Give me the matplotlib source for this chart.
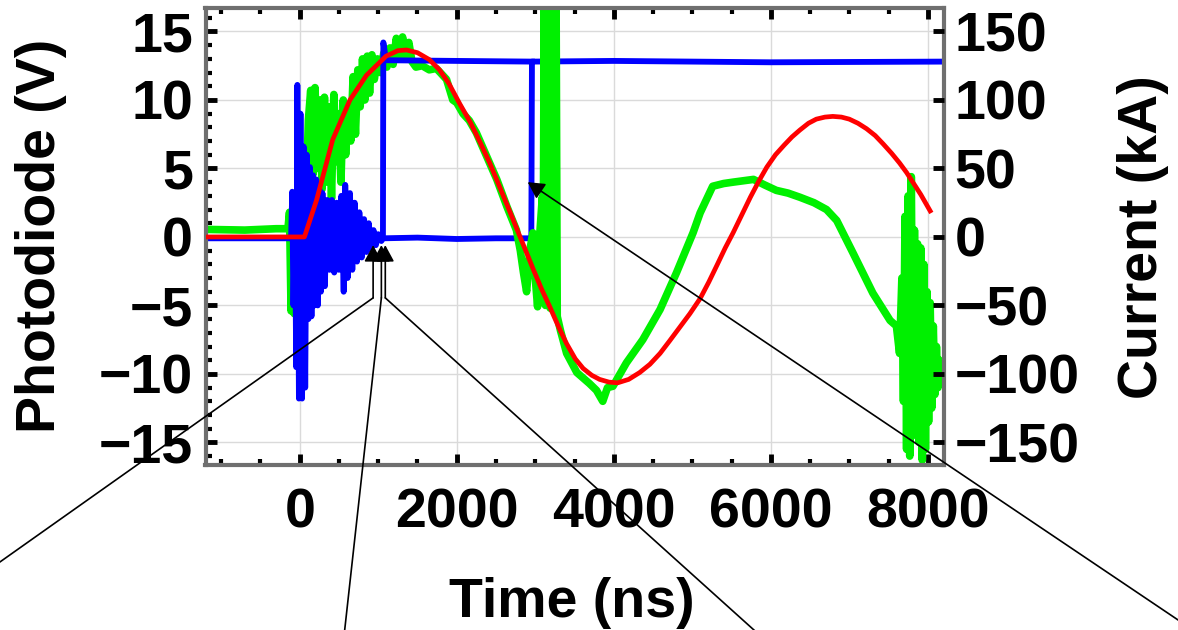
import numpy as np
import matplotlib
matplotlib.use('Agg')
import matplotlib.pyplot as plt
from matplotlib.ticker import MultipleLocator

# photodiode (green), ns / V
green_pts = [(-1200, 0.55), (-700, 0.5), (-300, 0.6), (-150, 0.6), (-130, 1.8), (-110, -5.4), (-90, 0.5),
             (-70, -5.6), (-40, 2.5), (-10, -4.0), (30, 5.0), (70, 0.5), (110, 8.5), (140, 10.7), (165, 4.5),
             (195, 10.9), (225, 5.0), (255, 10.0), (285, 3.5), (315, 10.2), (345, 4.0), (375, 9.5), (405, 2.8),
             (435, 10.4), (465, 5.5), (495, 9.0), (525, 4.0), (555, 10.0), (585, 6.0), (615, 9.3), (650, 7.0),
             (680, 11.7), (710, 7.5), (740, 12.2), (770, 9.5), (800, 13.0), (830, 10.0), (860, 13.2), (890, 10.5),
             (920, 13.3), (950, 11.5), (990, 13.0), (1030, 12.0), (1070, 13.4), (1110, 12.4), (1150, 13.8),
             (1190, 12.6), (1230, 14.5), (1270, 13.0), (1310, 14.6), (1350, 13.2), (1390, 14.2), (1430, 12.8),
             (1480, 12.4), (1560, 12.5), (1650, 12.2), (1740, 12.3), (1790, 12.0), (1870, 11.5), (1950, 10.0),
             (2000, 9.8), (2080, 9.0), (2160, 8.5), (2250, 7.6), (2380, 5.9), (2510, 4.2), (2640, 2.2),
             (2760, 0.5), (2810, -1.0), (2850, -2.6), (2890, -4.0), (2930, -1.0), (2970, 0.3), (3000, -3.0),
             (3030, -5.1), (3060, 0.4), (3090, 2.9), (3100, -4.5), (3115, 18.0), (3130, -5.0), (3145, 18.0),
             (3160, -5.0), (3175, 18.0), (3190, -5.2), (3205, 18.0), (3220, -5.3), (3235, 18.0), (3250, -5.5),
             (3265, 18.0), (3280, -5.8), (3320, -6.8), (3400, -8.5), (3530, -9.9), (3690, -10.7),
             (3780, -11.2), (3860, -12.0), (3920, -11.0), (3990, -10.9), (4160, -9.2), (4370, -7.5), (4590, -5.3),
             (4800, -2.6), (5010, 0.3), (5100, 1.75), (5260, 3.7), (5400, 3.9), (5520, 4.0), (5650, 4.1),
             (5780, 4.2), (5920, 3.8), (6070, 3.4), (6220, 3.2), (6370, 2.9), (6550, 2.5), (6710, 2.0),
             (6840, 1.2), (7050, -1.2), (7300, -4.1), (7520, -6.1), (7600, -6.5), (7640, -8.5), (7670, -3.0),
             (7690, -12.0), (7710, 1.5), (7730, -15.5), (7750, 3.0), (7770, -16.0), (7790, 4.4), (7810, -14.5),
             (7830, 0.5), (7850, -13.5), (7870, -0.5), (7890, -15.0), (7910, -0.8), (7930, -16.3), (7950, -2.0),
             (7970, -15.5), (7990, -4.0), (8010, -13.5), (8030, -4.8), (8050, -12.5), (8070, -6.5), (8090, -11.5),
             (8110, -8.0), (8130, -11.0), (8150, -9.0), (8170, -10.5)]

# first blue probe: ringing, then switches at ~1060 ns
blue1_pts = [(-1200, -0.1), (-110, -0.1), (-95, 3.3), (-80, -5.0), (-60, 2.0), (-45, -9.5), (-30, 11.1),
             (-10, -11.8), (10, 9.0), (30, -11.8), (50, 6.6), (70, -11.0), (90, 6.0), (110, -6.0), (130, 5.1),
             (150, -5.8), (170, 4.5), (190, -5.0), (210, 4.2), (230, -5.0), (250, 3.5), (270, -4.0), (290, 3.2),
             (320, -3.6), (350, 2.7), (380, -2.4), (410, 2.7), (440, -2.6), (470, 2.5), (500, -2.4), (530, 3.0),
             (560, -4.0), (580, 3.8), (610, -3.0), (640, 3.2), (670, -2.4), (700, 2.5), (730, -1.8), (760, 1.8),
             (790, -1.5), (820, 1.3), (850, -1.1), (880, 1.0), (910, -0.9), (940, 0.5), (970, -0.6), (1000, 0.2),
             (1040, -0.3), (1060, -0.1), (1065, 14.2), (1100, 12.9), (2000, 12.85), (2958, 12.8)]

# second blue probe: switches at ~2955 ns
blue2_pts = [(1060, -0.1), (1500, -0.05), (2000, -0.15), (2500, -0.1), (2950, -0.1), (2958, 12.8),
             (4000, 12.85), (6000, 12.75), (8200, 12.8)]

# discharge current (red), ns / kA
red_pts = [(-1200, 0), (60, 0), (215, 27), (420, 71), (640, 100), (850, 118), (1100, 132), (1250, 136),
           (1360, 136.5), (1500, 134.5), (1650, 129.5), (1780, 122), (1900, 112), (2040, 97), (2170, 84),
           (2290, 70), (2420, 54), (2550, 36), (2680, 18), (2800, 1), (2900, -13), (2970, -23), (3080, -38),
           (3185, -51), (3300, -66), (3400, -78), (3510, -89), (3610, -96), (3720, -101), (3820, -104),
           (3940, -106), (4050, -106.5), (4190, -104), (4330, -99), (4460, -93), (4590, -85), (4710, -76),
           (4840, -66), (4970, -56), (5100, -45), (5210, -33), (5320, -20), (5420, -8), (5520, 3), (5630, 16),
           (5740, 29), (5850, 41), (5950, 51), (6060, 60), (6170, 67), (6270, 73), (6370, 78), (6480, 83),
           (6580, 86), (6690, 87.5), (6790, 88), (6900, 87.5), (7000, 86), (7110, 83), (7220, 79), (7330, 74),
           (7430, 68), (7540, 61), (7640, 54), (7730, 47), (7820, 39), (7910, 31), (8000, 22), (8030, 19)]

x_ticks = [0, 2000, 4000, 6000, 8000]
v_ticks = [-15, -10, -5, 0, 5, 10, 15]
ka_ticks = [-150, -100, -50, 0, 50, 100, 150]

plt.rcParams['font.family'] = ['Liberation Sans', 'DejaVu Sans']
plt.rcParams['font.weight'] = 'bold'
plt.rcParams['font.size'] = 40

W, H = 1178, 630
fig = plt.figure(figsize=(W / 100, H / 100), dpi=100)
ax = fig.add_axes([205.5 / W, 1 - 465 / H, 738 / W, 457.5 / H])
ax2 = ax.twinx()

gt, gv = np.array(green_pts).T
b1t, b1v = np.array(blue1_pts).T
b2t, b2v = np.array(blue2_pts).T
rt, rv = np.array(red_pts).T

ax.plot(b2t, b2v, color='#0000ff', lw=4.2, zorder=1.5)
ax.plot(gt, gv, color='#00f000', lw=5.5, zorder=2)
ax.plot(b1t, b1v, color='#0000ff', lw=4.2, zorder=2.5)
ax2.plot(rt, rv, color='#ff0000', lw=3.4, zorder=3)

ax.set_xlim(-1200, 8200)
ax.set_ylim(-16.65, 16.75)
ax2.set_ylim(-166.5, 167.5)

for v in v_ticks:
    ax.axhline(v, color='#dadada', lw=1.0, zorder=0.5)
for t in x_ticks:
    ax.axvline(t, color='#dadada', lw=1.0, zorder=0.5)

ax.set_xticks(x_ticks)
ax.xaxis.set_minor_locator(MultipleLocator(500))
ax.set_yticks(v_ticks)
ax.yaxis.set_minor_locator(MultipleLocator(1))
ax.tick_params(which='both', direction='in', top=True, right=False, colors='black')
ax.tick_params(which='major', length=8, width=3.5)
ax.tick_params(which='minor', length=4.5, width=3)
ax.tick_params(axis='x', which='major', pad=16)
ax.tick_params(axis='y', which='major', pad=9)

ax2.set_yticks(ka_ticks)
ax2.set_yticklabels([f'{k}'.replace('-', '\u2212') for k in ka_ticks])
ax2.tick_params(direction='in', length=8, width=3.5, pad=8, colors='black')

for s in ax.spines.values():
    s.set_color('#6f6f6f')
    s.set_linewidth(3)
for s in ax2.spines.values():
    s.set_visible(False)

fig.text(41.5 / W, 1 - 236 / H, 'Photodiode (V)', rotation=90, ha='center', va='center')
fig.text(1143 / W, 1 - 237 / H, 'Current (kA)', rotation=90, ha='center', va='center')
fig.text(572 / W, 1 - 617 / H, 'Time (ns)', ha='center', va='baseline')

# pointer arrows (tail outside the frame, tip on the blue traces)
line_kw = dict(arrowstyle='-', lw=1.2, color='black', shrinkA=0, shrinkB=0)
head_kw = dict(arrowstyle='-|>,head_length=0.5,head_width=0.27', mutation_scale=20,
               lw=1.2, color='black', shrinkA=0, shrinkB=0)
pointers = [((-0.0085, 0.0968), (935, -4.45), (935, -0.6)),
            ((0.2912, -0.0238), (1040, -4.45), (1040, -0.6)),
            ((0.657, -0.0286), (1090, -4.45), (1090, -0.6))]
for tail, corner, tip in pointers:
    ax2.annotate('', xy=corner, xycoords=ax.transData, xytext=tail, textcoords='figure fraction',
                 arrowprops=line_kw, annotation_clip=False, zorder=5)
    ax2.annotate('', xy=tip, xycoords=ax.transData, xytext=corner, textcoords=ax.transData,
                 arrowprops=head_kw, annotation_clip=False, zorder=5)
ax2.annotate('', xy=(2904, 4.0), xycoords=ax.transData, xytext=(1.0127, 0.0), textcoords='figure fraction',
             arrowprops=head_kw, annotation_clip=False, zorder=5)

fig.savefig('out.png', dpi=100)
